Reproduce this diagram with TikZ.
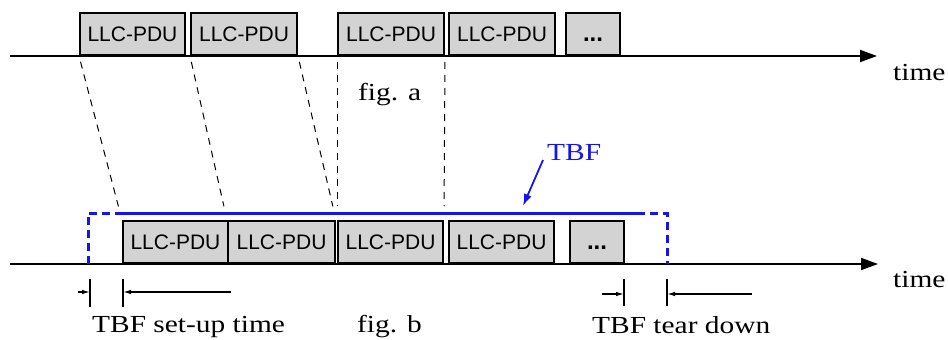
\documentclass[tikz,border=0pt]{standalone}
\usepackage{fontspec}
\setsansfont{Liberation Sans}
\newfontfamily\labelfont[FakeStretch=1.2]{Liberation Serif}
\usetikzlibrary{arrows.meta}
\definecolor{pdufill}{RGB}{211,211,211}
\definecolor{tbfblue}{RGB}{20,20,235}
\begin{document}
\begin{tikzpicture}[x=1pt,y=-1pt,
  pdu/.style={draw=black,line width=2pt,fill=pdufill,inner sep=0pt,
    anchor=south west,minimum height=42pt,text height=15pt,text depth=0pt,
    font=\sffamily\fontsize{21}{24}\selectfont},
  dots/.style={pdu,font=\sffamily\bfseries\fontsize{24}{26}\selectfont},
  axis/.style={line width=2pt,-{Triangle[length=17pt,width=12pt]}},
  link/.style={line width=1pt,dash pattern=on 7pt off 6pt,shorten <=6pt,shorten >=14pt},
  tbfline/.style={tbfblue,line width=3pt},
  tbfdash/.style={tbfblue,line width=3pt,dash pattern=on 8pt off 5pt},
  lbl/.style={inner sep=0pt,anchor=base west,font=\labelfont\fontsize{24.5}{28}\selectfont},
  tick/.style={line width=1.4pt},
  dim/.style={line width=1.2pt,-{Latex[length=8pt,width=4.5pt]}}]
\useasboundingbox (0,0) rectangle (948,340);

% fig. a: frames as they leave the sender
\coordinate (a0) at (10,56);
\coordinate (aend) at (877,56);
\draw[axis] (a0) -- (aend);
\node[pdu,minimum width=105pt] (a1) at (79,56) {LLC-PDU};
\node[pdu,minimum width=106pt] (a2) at (190,56) {LLC-PDU};
\node[pdu,minimum width=106pt] (a3) at (337,56) {LLC-PDU};
\node[pdu,minimum width=106pt] (a4) at (448,56) {LLC-PDU};
\node[dots,minimum width=54pt] (a5) at (565,56) {...};
\node[lbl] (taxa) at (893,80) {time};
\node[lbl] (figa) at (358,100) {fig. a};

% fig. b: the same frames carried inside one TBF
\coordinate (b0) at (10,264);
\coordinate (bend) at (878,264);
\draw[axis] (b0) -- (bend);
\node[pdu,minimum width=105pt] (b1) at (122,264) {LLC-PDU};
\node[pdu,minimum width=107pt] (b2) at (227,264) {LLC-PDU};
\node[pdu,minimum width=105pt] (b3) at (337,264) {LLC-PDU};
\node[pdu,minimum width=105pt] (b4) at (448,264) {LLC-PDU};
\node[dots,minimum width=54pt] (b5) at (569,264) {...};
\node[lbl] (taxb) at (893,287) {time};
\node[lbl] (figb) at (357,332) {fig. b};

% mapping of frame edges between the two time lines
\draw[link] (a1.south west) -- (b1.north west);
\draw[link] (a2.south west) -- (b2.north west);
\draw[link] (a2.south east) -- (b2.north east);
\draw[link] (a3.south west) -- (b3.north west);
\draw[link] (a3.south east) -- (b3.north east);

% TBF lifetime
\coordinate (tl0) at (88,264);
\coordinate (tl1) at (88,213);
\coordinate (ts0) at (122,213);
\coordinate (ts1) at (637,213);
\coordinate (tr1) at (667,213);
\coordinate (tr0) at (667,264);
\draw[tbfdash] (tl0) -- (tl1) -- (ts0);
\draw[tbfline] (ts0) -- (ts1);
\draw[tbfdash] (ts1) -- (tr1) -- (tr0);
\node[lbl,text=tbfblue] (tbf) at (547,160) {TBF};
\coordinate (tbftip) at (523,206);
\draw[tbfblue,line width=1.8pt,-{Latex[length=12pt,width=8pt]}]
  ([xshift=-4pt]tbf.base west) -- (tbftip);

% set-up time dimension
\coordinate (su1t) at (90,279);  \coordinate (su1b) at (90,307);
\coordinate (su2t) at (123,279); \coordinate (su2b) at (123,307);
\coordinate (su1) at (90,292);   \coordinate (su2) at (123,292);
\coordinate (sul) at (78,292);   \coordinate (sur) at (231,292);
\draw[tick] (su1t) -- (su1b);
\draw[tick] (su2t) -- (su2b);
\draw[dim] (sul) -- (su1);
\draw[dim] (sur) -- (su2);
\node[lbl] (setup) at (92,332) {TBF set-up time};

% tear-down dimension
\coordinate (td1t) at (624,279); \coordinate (td1b) at (624,306);
\coordinate (td2t) at (667,279); \coordinate (td2b) at (667,306);
\coordinate (td1) at (624,294);  \coordinate (td2) at (667,294);
\coordinate (tdl) at (602,294);  \coordinate (tdr) at (752,294);
\draw[tick] (td1t) -- (td1b);
\draw[tick] (td2t) -- (td2b);
\draw[dim] (tdl) -- (td1);
\draw[dim] (tdr) -- (td2);
\node[lbl] (teardown) at (592,333) {TBF tear down};
\end{tikzpicture}
\end{document}
